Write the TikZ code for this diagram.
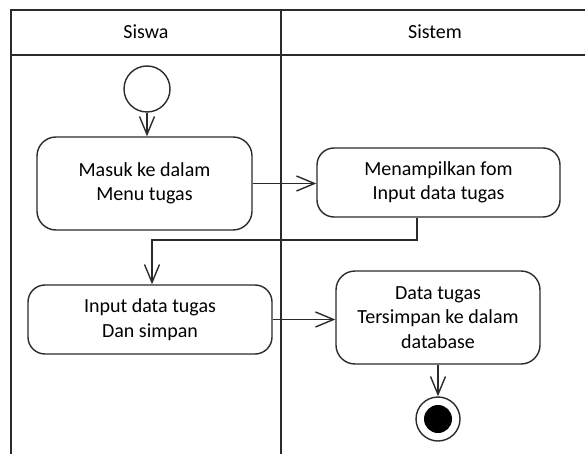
\documentclass[tikz,border=0pt]{standalone}
\usepackage{fontspec}
\setmainfont{Carlito}
\usetikzlibrary{arrows.meta}

\definecolor{ink}{HTML}{2B2B2B}

\tikzset{
  lane/.style={draw=ink, line width=1.8pt},
  action/.style={draw=ink, line width=1.4pt, rounded corners=19pt, fill=white,
    align=center, inner sep=0pt, font=\fontsize{20}{24.5}\selectfont},
  flow/.style={draw=ink, line width=1.4pt,
    -{Straight Barb[length=18pt,width=15pt,line width=1.4pt]}},
  header/.style={font=\fontsize{20}{24}\selectfont, inner sep=0pt},
}

\begin{document}
\begin{tikzpicture}[x=1pt, y=-1pt]
  \useasboundingbox (0,0) rectangle (585,454);

  % swimlane frame
  \coordinate (tl) at (11,10);
  \coordinate (tr) at (585,10);
  \coordinate (hl) at (11,55);
  \coordinate (hr) at (585,55);
  \coordinate (bl) at (11,454);
  \coordinate (dt) at (281,10);
  \coordinate (db) at (281,454);
  \draw[lane] (tr) -- (tl) -- (bl);
  \draw[lane] (hl) -- (hr);
  \draw[lane] (dt) -- (db);

  \node[header] (h1) at (146,32) {Siswa};
  \node[header] (h2) at (435,32) {Sistem};

  % initial node
  \node[draw=ink, line width=1.4pt, circle, minimum size=46pt, inner sep=0pt] (start) at (147,89) {};

  % actions
  \node[action, minimum width=215pt, minimum height=93pt] (b1) at (144.5,183.5)
    {Masuk ke dalam\\Menu tugas};
  \node[action, minimum width=243pt, minimum height=69pt, rounded corners=17pt] (b2) at (438.5,182.5)
    {Menampilkan fom\\Input data tugas};
  \node[action, minimum width=244pt, minimum height=69pt, rounded corners=17pt] (b3) at (150,319.5)
    {Input data tugas\\Dan simpan};
  \node[action, minimum width=204pt, minimum height=93pt] (b4) at (438,317.5)
    {Data tugas\\Tersimpan ke dalam\\database};

  % final node
  \node[draw=ink, line width=1.4pt, circle, minimum size=44pt, inner sep=0pt, fill=white] (final) at (438,419) {};
  \node[circle, fill=black, minimum size=28pt, inner sep=0pt] (finaldot) at (final.center) {};

  % control flows
  \draw[flow] (start.south) -- (start.south |- b1.north);
  \draw[flow] (b1.east) -- (b1.east -| b2.west);
  \coordinate (bend) at (152,240);
  \draw[flow] ([xshift=-21.5pt]b2.south) |- (bend) -- (bend |- b3.north);
  \draw[flow] (b3.east) -- (b3.east -| b4.west);
  \draw[flow] (b4.south) -- (final.north);
\end{tikzpicture}
\end{document}
